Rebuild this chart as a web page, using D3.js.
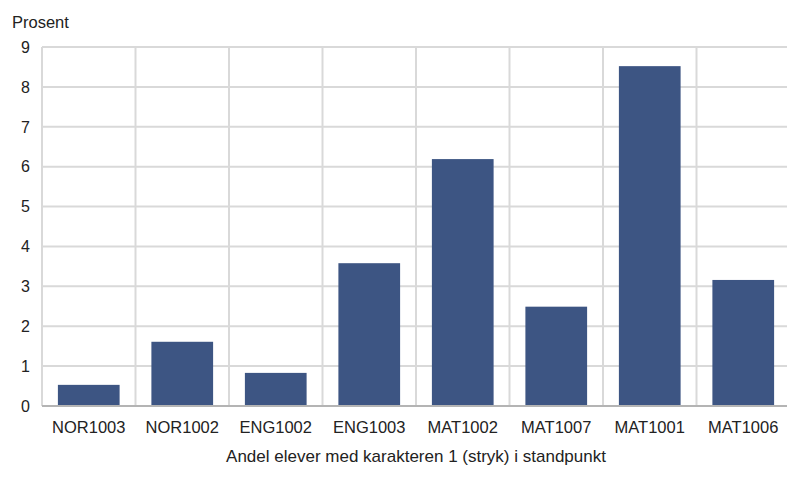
<!DOCTYPE html>
<html>
<head>
<meta charset="utf-8">
<script src="https://cdn.jsdelivr.net/npm/d3@7"></script>
<style>
  body { margin: 0; background: #fff; }
  text { font-family: Arial, "Liberation Sans", sans-serif; fill: #222; }
</style>
</head>
<body>
<div id="chart"></div>
<script>
var categories = ["NOR1003", "NOR1002", "ENG1002", "ENG1003", "MAT1002", "MAT1007", "MAT1001", "MAT1006"];
var values = [0.53, 1.61, 0.83, 3.58, 6.19, 2.49, 8.52, 3.16];
var yTicks = [0, 1, 2, 3, 4, 5, 6, 7, 8, 9];

var W = 787, H = 478;
var plotLeft = 42, plotRight = 790, plotTop = 47, plotBottom = 406;

var svg = d3.select("#chart").append("svg")
    .attr("width", W)
    .attr("height", H);

var x = d3.scaleBand()
    .domain(categories)
    .range([plotLeft, plotRight])
    .paddingInner(0)
    .paddingOuter(0);

var y = d3.scaleLinear()
    .domain([0, 9])
    .range([plotBottom, plotTop]);

//GRID
svg.append("g")
    .selectAll("line")
    .data(yTicks)
    .enter().append("line")
    .attr("x1", plotLeft)
    .attr("x2", plotRight)
    .attr("y1", function (d) { return y(d); })
    .attr("y2", function (d) { return y(d); })
    .attr("stroke", "#d9d9d9")
    .attr("stroke-width", 2);

var edges = categories.map(function (c) { return x(c); }).concat([plotRight]);
svg.append("g")
    .selectAll("line")
    .data(edges)
    .enter().append("line")
    .attr("x1", function (d) { return d; })
    .attr("x2", function (d) { return d; })
    .attr("y1", plotTop)
    .attr("y2", plotBottom)
    .attr("stroke", "#d9d9d9")
    .attr("stroke-width", 2);

//BARS
var bw = x.bandwidth() * 0.66;
svg.append("g")
    .selectAll("rect")
    .data(values)
    .enter().append("rect")
    .attr("x", function (d, i) { return x(categories[i]) + (x.bandwidth() - bw) / 2; })
    .attr("width", bw)
    .attr("y", function (d) { return y(d); })
    .attr("height", function (d) { return y(0) - y(d); })
    .attr("fill", "#3d5583");

//AXIS LINE
svg.append("line")
    .attr("x1", plotLeft)
    .attr("x2", plotRight)
    .attr("y1", y(0))
    .attr("y2", y(0))
    .attr("stroke", "#b4b4b4")
    .attr("stroke-width", 2);

//Y LABELS
svg.append("g")
    .selectAll("text")
    .data(yTicks)
    .enter().append("text")
    .attr("x", 30)
    .attr("y", function (d) { return y(d); })
    .attr("dy", "0.36em")
    .attr("text-anchor", "end")
    .style("font-size", "16px")
    .text(function (d) { return d; });

//X LABELS
svg.append("g")
    .selectAll("text")
    .data(categories)
    .enter().append("text")
    .attr("x", function (d) { return x(d) + x.bandwidth() / 2; })
    .attr("y", 433)
    .attr("text-anchor", "middle")
    .style("font-size", "16.5px")
    .text(function (d) { return d; });

svg.append("text")
    .attr("x", (plotLeft + plotRight) / 2)
    .attr("y", 462)
    .attr("text-anchor", "middle")
    .style("font-size", "17px")
    .text("Andel elever med karakteren 1 (stryk) i standpunkt");

svg.append("text")
    .attr("x", 12)
    .attr("y", 28)
    .style("font-size", "16.5px")
    .text("Prosent");
</script>
</body>
</html>
